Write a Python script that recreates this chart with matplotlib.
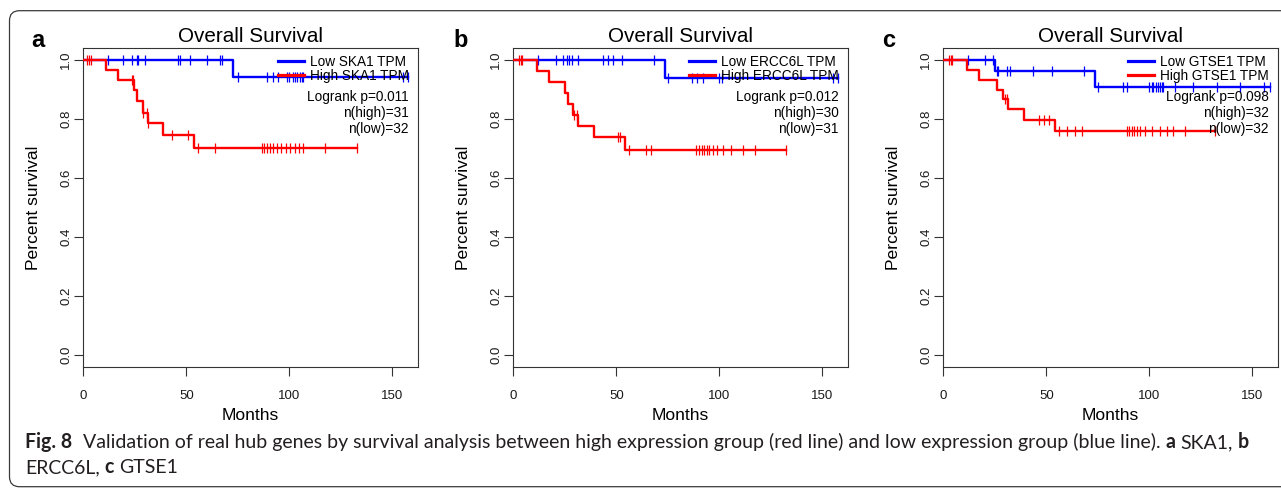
import numpy as np
import matplotlib.pyplot as plt
from matplotlib.lines import Line2D
from matplotlib.patches import FancyBboxPatch

plt.rcParams['font.family'] = ['Liberation Sans', 'DejaVu Sans']

#
# values (months / survival fraction)
#

panel_letters = ['a', 'b', 'c']
genes = ['SKA1', 'ERCC6L', 'GTSE1']
logrank_p = ['0.011', '0.012', '0.098']
n_high = [31, 30, 32]
n_low = [32, 31, 32]

# low expression group (blue)
low_drop_t = [[72.8], [73.6], [25.1, 73.6]]
low_drop_s = [[0.944], [0.940], [0.964, 0.910]]
low_cens = [
    [11.8, 19.4, 23.8, 25.9, 26.7, 30.1, 45.8, 46.9, 51.8, 59.9, 66.4, 67.5,
     75.2, 89.0, 91.9, 94.7, 99.0, 100.0, 101.6, 102.8, 103.9, 105.2, 106.0,
     106.8, 155.3, 157.7],
    [11.8, 20.7, 24.3, 25.9, 27.2, 28.6, 31.6, 43.7, 45.8, 48.3, 52.6, 68.5,
     75.2, 86.6, 89.0, 92.3, 100.0, 101.2, 155.3, 157.7],
    [12.1, 20.2, 24.3, 25.9, 26.7, 30.8, 32.4, 43.7, 52.6, 68.5, 75.2, 87.4,
     89.0, 100.0, 101.2, 101.9, 103.3, 104.4, 105.2, 106.0, 106.8, 112.5,
     121.4, 132.7, 144.0, 155.7, 158.6],
]

# high expression group (red)
high_drop_t = [
    [10.9, 17.0, 24.5, 25.9, 28.8, 31.3, 38.8, 53.9],
    [11.3, 17.5, 25.1, 26.4, 28.8, 31.3, 39.3, 54.2],
    [11.3, 17.3, 26.2, 29.1, 31.3, 39.3, 54.2],
]
high_drop_s = [
    [0.967, 0.933, 0.897, 0.860, 0.822, 0.786, 0.747, 0.703],
    [0.964, 0.927, 0.888, 0.852, 0.814, 0.777, 0.739, 0.696],
    [0.967, 0.933, 0.899, 0.868, 0.834, 0.797, 0.758],
]
high_cens = [
    [1.6, 2.9, 3.7, 23.5, 24.0, 29.1, 30.8, 31.6, 42.9, 51.0, 55.8, 63.9,
     86.9, 87.7, 89.0, 90.6, 92.3, 94.2, 96.0, 98.2, 100.3, 102.8, 104.7,
     106.8, 117.3, 132.7],
    [2.9, 3.6, 4.4, 29.3, 30.8, 51.0, 51.8, 56.3, 64.4, 66.8, 88.5, 90.3,
     91.4, 92.6, 93.9, 95.1, 96.8, 99.0, 101.6, 105.7, 111.4, 117.3, 132.4],
    [2.9, 3.6, 4.4, 29.9, 30.8, 46.5, 48.9, 51.3, 56.3, 60.2, 63.9, 67.2,
     89.0, 90.3, 91.4, 92.6, 93.9, 95.5, 97.9, 101.2, 105.2, 108.4, 111.7,
     117.3, 131.9],
]

caption_1 = [('Fig. 8', 'bold', 0.55),
             ('Validation of real hub genes by survival analysis between high '
              'expression group (red line) and low expression group (blue line).',
              'normal', 0.25),
             ('a', 'bold', 0.25), ('SKA1,', 'normal', 0.25), ('b', 'bold', 0)]
caption_2 = [('ERCC6L,', 'normal', 0.25), ('c', 'bold', 0.25), ('GTSE1', 'normal', 0)]

W, H = 1281, 488
fig = plt.figure(figsize=(W / 100, H / 100), dpi=100)

# rounded frame around the figure (open on the right)
frame = FancyBboxPatch((0.095, 0.013), 14.0, 4.76,
                       boxstyle='round,pad=0,rounding_size=0.1',
                       transform=fig.dpi_scale_trans, fill=False,
                       edgecolor='#3a3a3a', lw=0.9)
fig.patches.append(frame)


def km_curve(ax, drop_t, drop_s, cens, color, z):
    end = max(max(cens), drop_t[-1])
    t = np.concatenate([[0], drop_t, [end]])
    s = np.concatenate([[1.0], drop_s, [drop_s[-1]]])
    ax.step(t, s, where='post', color=color, lw=1.7, zorder=z)
    levels = np.concatenate([[1.0], drop_s])
    idx = np.searchsorted(drop_t, cens, side='right')
    ax.plot(cens, levels[idx], ls='none', marker='|', ms=6.5, mew=0.9,
            color=color, zorder=z)


ax_left = [83.3, 513.3, 943.3]
letter_x = [31.5, 453.5, 882.5]
for i in range(3):
    ax = fig.add_axes([ax_left[i] / W, (H - 366.7) / H, 334.4 / W, 318.4 / H])
    km_curve(ax, low_drop_t[i], low_drop_s[i], low_cens[i], 'blue', 2)
    km_curve(ax, high_drop_t[i], high_drop_s[i], high_cens[i], 'red', 3)

    ax.set_xlim(0, 162.3)
    ax.set_ylim(-0.04, 1.04)
    ax.set_xticks([0, 50, 100, 150])
    ax.set_yticks([0, 0.2, 0.4, 0.6, 0.8, 1.0])
    ax.set_yticklabels(['0.0', '0.2', '0.4', '0.6', '0.8', '1.0'])
    ax.tick_params(direction='out', length=6.5, width=0.8, color='#333333',
                   labelsize=9.5, labelcolor='#1a1a1a')
    ax.tick_params(axis='x', pad=10)
    ax.tick_params(axis='y', pad=1.5)
    for lab in ax.get_yticklabels():
        lab.set_rotation(90)
        lab.set_va('center')
    for sp in ax.spines.values():
        sp.set_color('#333333')
        sp.set_linewidth(0.8)

    ax.set_title('Overall Survival', fontsize=14.9, pad=4.3)
    ax.set_xlabel('Months', fontsize=12.6, labelpad=4.5)
    ax.set_ylabel('Percent survival', fontsize=12.6, labelpad=14)

    handles = [Line2D([], [], color='blue', lw=2.3),
               Line2D([], [], color='red', lw=2.3)]
    ax.legend(handles, ['Low %s TPM' % genes[i], 'High %s TPM' % genes[i]],
              loc='upper right', bbox_to_anchor=(0.9725, 0.979), frameon=False,
              fontsize=9.8, handlelength=1.9, handletextpad=0.4,
              labelspacing=0.0, borderpad=0, borderaxespad=0)
    stats = ['Logrank p=%s' % logrank_p[i], 'n(high)=%d' % n_high[i],
             'n(low)=%d' % n_low[i]]
    for s, yy in zip(stats, [0.847, 0.797, 0.7465]):
        ax.text(0.9725, yy, s, transform=ax.transAxes, ha='right', va='center',
                fontsize=9.8, zorder=6)

    fig.text(letter_x[i] / W, (H - 46.7) / H, panel_letters[i], fontsize=17,
             fontweight='bold', va='baseline')


# caption, written run by run so that bold and regular can mix
def put_runs(runs, x_px, y_px, size):
    r = fig.canvas.get_renderer()
    x = x_px
    arts = []
    for txt, weight, gap in runs:
        t = fig.text(x / W, (H - y_px) / H, txt, fontsize=size, fontweight=weight,
                     family=['Lato', 'DejaVu Sans'], color='#231f20', va='baseline')
        arts.append(t)
        x += t.get_window_extent(r).width + gap * size * 100 / 72
    return arts, x - x_px


arts, width = put_runs(caption_1, 25, 448, 12)
for a in arts:
    a.remove()
size = 12 * 1220 / width
put_runs(caption_1, 25, 448, size)
put_runs(caption_2, 25, 473.3, size)

plt.savefig('out.png', dpi=100)
